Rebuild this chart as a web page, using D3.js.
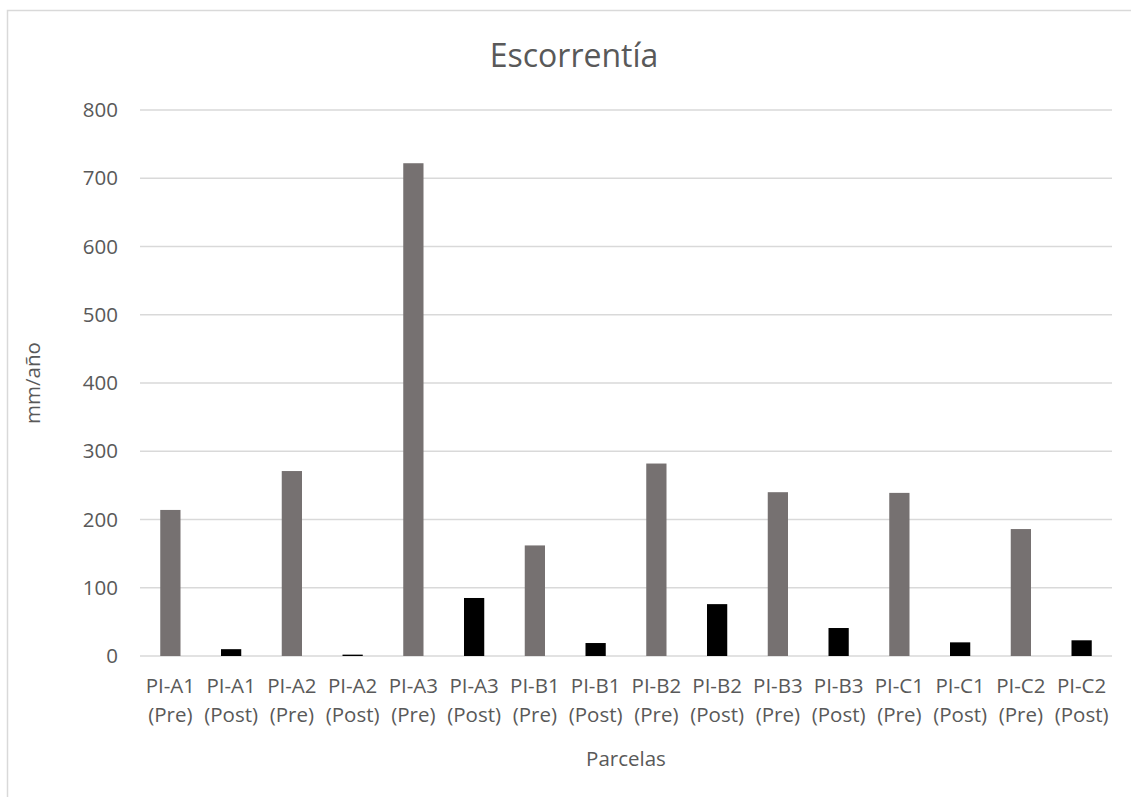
<!DOCTYPE html>
<html>
<head>
<meta charset="utf-8">
<script src="https://cdnjs.cloudflare.com/ajax/libs/d3/7.8.5/d3.min.js"></script>
<style>
  html, body { margin: 0; padding: 0; background: #fff; }
  svg { display: block; }
  text { font-family: "Open Sans", "Noto Sans", sans-serif; fill: #595959; }
</style>
</head>
<body>
<svg id="chart" width="1131" height="797"></svg>
<script>
const title = "Escorrentía";
const yAxisTitle = "mm/año";
const xAxisTitle = "Parcelas";
const plots = ["PI-A1","PI-A1","PI-A2","PI-A2","PI-A3","PI-A3","PI-B1","PI-B1","PI-B2","PI-B2","PI-B3","PI-B3","PI-C1","PI-C1","PI-C2","PI-C2"];
const periods = ["(Pre)","(Post)","(Pre)","(Post)","(Pre)","(Post)","(Pre)","(Post)","(Pre)","(Post)","(Pre)","(Post)","(Pre)","(Post)","(Pre)","(Post)"];
const values = [214, 10, 271, 2, 722, 85, 162, 19, 282, 76, 240, 41, 239, 20, 186, 23];
const yTicks = [0, 100, 200, 300, 400, 500, 600, 700, 800];

const svg = d3.select("#chart");
const m = { left: 140, right: 1112, top: 110, bottom: 656 };

// chart border
svg.append("rect").attr("x", 7.5).attr("y", 10.5).attr("width", 1140).attr("height", 800)
  .attr("fill", "none").attr("stroke", "#d9d9d9").attr("stroke-width", 1.5);

const keys = d3.range(values.length);
const x = d3.scaleBand().domain(keys).range([m.left, m.right]).paddingInner(2/3).paddingOuter(1/3);
const y = d3.scaleLinear().domain([0, 800]).range([m.bottom, m.top]);

// gridlines
svg.append("g").selectAll("line").data(yTicks).join("line")
  .attr("x1", m.left).attr("x2", m.right)
  .attr("y1", d => y(d)).attr("y2", d => y(d))
  .attr("stroke", "#d9d9d9").attr("stroke-width", 1.3);

// y axis labels
const yAxis = d3.axisLeft(y).tickValues(yTicks).tickSize(0).tickPadding(22);
const gy = svg.append("g").attr("transform", `translate(${m.left},0)`).call(yAxis);
gy.select(".domain").remove();
gy.selectAll("text").style("font-size", "20.5px").attr("fill", "#595959")
  .style("font-family", '"Open Sans", sans-serif');

// bars
svg.append("g").selectAll("rect").data(values).join("rect")
  .attr("x", (d, i) => x(i))
  .attr("width", x.bandwidth())
  .attr("y", d => y(d))
  .attr("height", d => y(0) - y(d))
  .attr("fill", (d, i) => i % 2 === 0 ? "#767171" : "#000000");

// x axis labels
const xAxis = d3.axisBottom(x).tickSize(0).tickFormat(() => "");
const gx = svg.append("g").attr("transform", `translate(0,${m.bottom})`).call(xAxis);
gx.select(".domain").remove();
const xl = svg.append("g").selectAll("text").data(keys).join("text")
  .attr("text-anchor", "middle")
  .style("font-size", "20.5px");
xl.append("tspan").attr("x", i => x(i) + x.bandwidth() / 2).attr("y", 693).text(i => plots[i]);
xl.append("tspan").attr("x", i => x(i) + x.bandwidth() / 2).attr("y", 722).text(i => periods[i]);

// axis titles
svg.append("text").attr("x", (m.left + m.right) / 2).attr("y", 766)
  .attr("text-anchor", "middle").style("font-size", "20.5px").text(xAxisTitle);
svg.append("text").attr("transform", `translate(40,${(m.top + m.bottom) / 2}) rotate(-90)`)
  .attr("text-anchor", "middle").style("font-size", "20.5px").text(yAxisTitle);

// title
svg.append("text").attr("x", 574).attr("y", 67)
  .attr("text-anchor", "middle").style("font-size", "32px").text(title);
</script>
</body>
</html>
